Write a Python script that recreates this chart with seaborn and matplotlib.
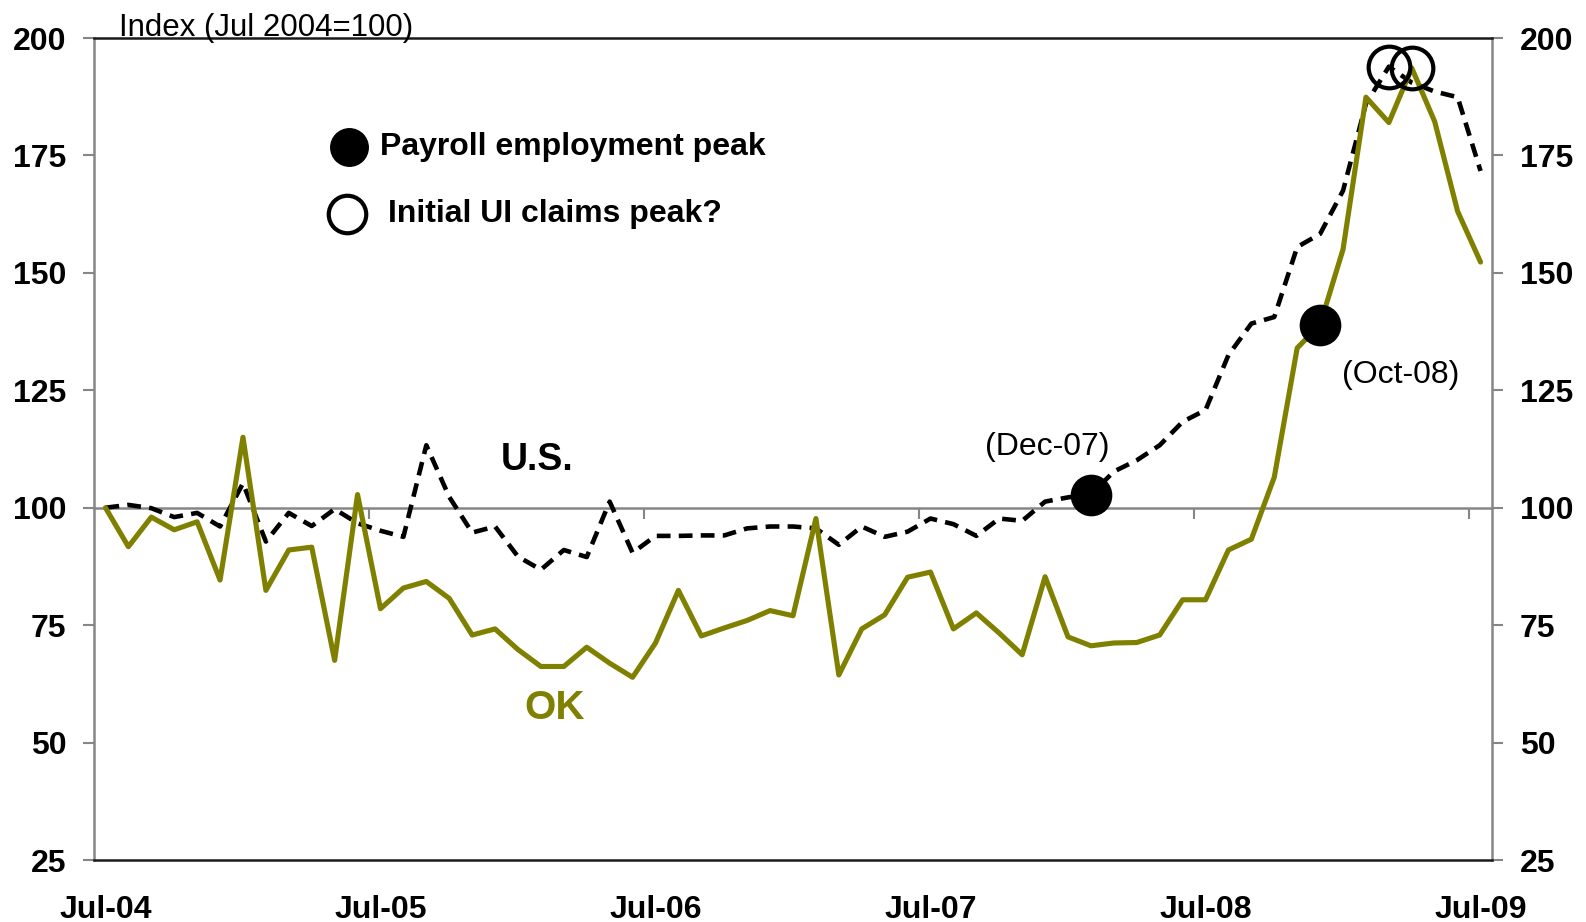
import numpy as np
import pandas as pd
import matplotlib
matplotlib.use('Agg')
import matplotlib.pyplot as plt
import seaborn as sns

# monthly index, Jul 2004 = 100 (Jul-04 .. Jul-09)
tick_labels = ['Jul-04', 'Jul-05', 'Jul-06', 'Jul-07', 'Jul-08', 'Jul-09']
us_index = [100, 100.6, 99.9, 98, 98.9, 96, 105.2, 92.8, 98.9, 96.1,
            99.7, 96.7, 95.1, 93.8, 113.3, 102.3, 94.7, 96, 89.6, 86.8,
            91, 89.5, 101.3, 90.4, 94, 94, 94.1, 94.1, 95.6, 96,
            96, 95.6, 92.1, 96, 93.8, 94.9, 97.7, 96.5, 94, 97.7,
            97.2, 101.3, 102.2, 102.8, 107.7, 110.1, 113.3, 118.3, 120.8, 132.5,
            139.2, 140.6, 155.5, 158.3, 167.5, 186, 193.9, 190.5, 188.6, 187.4, 171.7]
ok_index = [100, 91.7, 98, 95.3, 97, 84.6, 115, 82.4, 91, 91.6,
            67.5, 102.8, 78.5, 82.9, 84.3, 80.7, 72.9, 74.2, 69.8, 66.2,
            66.2, 70.3, 66.9, 63.9, 71.2, 82.4, 72.7, 74.4, 76, 78.1,
            77, 97.7, 64.4, 74.2, 77.2, 85.2, 86.3, 74.2, 77.6, 73.3,
            68.7, 85.3, 72.5, 70.6, 71.2, 71.3, 72.9, 80.4, 80.4, 91,
            93.3, 106.5, 134, 139, 155, 187.4, 182, 193.6, 182.2, 163.1, 152.3]

# peaks: payroll employment (filled) and initial UI claims (open)
payroll_peak_us = 43   # Dec-07
payroll_peak_ok = 53   # Oct-08
claims_peak_us = 56
claims_peak_ok = 57

df = pd.DataFrame({'month': np.arange(len(us_index)), 'US': us_index, 'OK': ok_index})

sns.set_style('white')
plt.rcParams['font.family'] = ['Liberation Sans', 'DejaVu Sans']
plt.rcParams['text.color'] = 'black'

olive = '#808000'
gray = '#868686'

fig = plt.figure(figsize=(15.86, 9.22), dpi=100)
ax = fig.add_axes([94 / 1586, 1 - 860 / 922, (1492 - 94) / 1586, (860 - 38) / 922])

# line at 100 with small year ticks
sec = ax.secondary_xaxis((100 - 25) / 175)
sec.set_xticks([11.5, 23.5, 35.5, 47.5, 59.5])
sec.tick_params(axis='x', length=8, width=1.5, color=gray, direction='out', labelbottom=False, labeltop=False)
for s in sec.spines.values():
    s.set_color(gray)
    s.set_linewidth(1.8)
sec.set_zorder(0.5)

sns.lineplot(data=df, x='month', y='US', ax=ax, color='black', linewidth=3.3, zorder=3)
ax.lines[-1].set_linestyle((0, (3, 1.8)))
sns.lineplot(data=df, x='month', y='OK', ax=ax, color=olive, linewidth=3.7, zorder=4)

# filled dots
ax.plot([payroll_peak_us], [us_index[payroll_peak_us]], 'o', color='black', markersize=29, zorder=6)
ax.plot([payroll_peak_ok], [ok_index[payroll_peak_ok]], 'o', color='black', markersize=29, zorder=6)
# open circles
ax.plot([claims_peak_us], [us_index[claims_peak_us]], 'o', mfc='none', mec='black', mew=3, markersize=30, zorder=6)
ax.plot([claims_peak_ok], [ok_index[claims_peak_ok]], 'o', mfc='none', mec='black', mew=3, markersize=30, zorder=6)

ax.set_xlim(-0.5, 60.5)
ax.set_ylim(25, 200)
ax.set_yticks(np.arange(25, 201, 25))
ax.set_xticks(np.arange(0, 61, 12))
ax.set_xticklabels(tick_labels)
ax.set_xlabel('')
ax.set_ylabel('')
ax.tick_params(axis='x', length=0, pad=25, labelsize=23, labelcolor='black')
ax.tick_params(axis='y', which='both', left=True, right=True, labelleft=True, labelright=True,
               direction='out', length=8, width=1.5, color=gray, pad=12, labelsize=23, labelcolor='black')
for lab in ax.get_xticklabels():
    lab.set_fontweight('bold')
for t in ax.yaxis.get_major_ticks():
    t.label1.set_fontweight('bold')
    t.label2.set_fontweight('bold')

for side in ['left', 'right']:
    ax.spines[side].set_color(gray)
    ax.spines[side].set_linewidth(1.8)
for side in ['top', 'bottom']:
    ax.spines[side].set_color('#1a1a1a')
    ax.spines[side].set_linewidth(1.8)

# labels on the chart
ax.text(18.85, 110.1, 'U.S.', fontsize=27, fontweight='bold', ha='center', va='center')
ax.text(19.6, 57.4, 'OK', fontsize=29, fontweight='bold', color=olive, ha='center', va='center')
ax.text(41.1, 112.9, '(Dec-07)', fontsize=23, ha='center', va='center')
ax.text(56.5, 128.2, '(Oct-08)', fontsize=23, ha='center', va='center')

# legend keys
ax.plot([0.1824], [0.8674], 'o', color='black', markersize=27, transform=ax.transAxes, clip_on=False)
ax.plot([0.181], [0.786], 'o', mfc='none', mec='black', mew=3, markersize=27, transform=ax.transAxes, clip_on=False)
ax.text(0.2046, 0.8674, 'Payroll employment peak', transform=ax.transAxes, fontsize=23, fontweight='bold', va='center')
ax.text(0.2103, 0.786, 'Initial UI claims peak?', transform=ax.transAxes, fontsize=23, fontweight='bold', va='center')

fig.text(119 / 1586, 1 - 36 / 922, 'Index (Jul 2004=100)', fontsize=22.5, va='baseline')

fig.savefig('out.png', dpi=100)
